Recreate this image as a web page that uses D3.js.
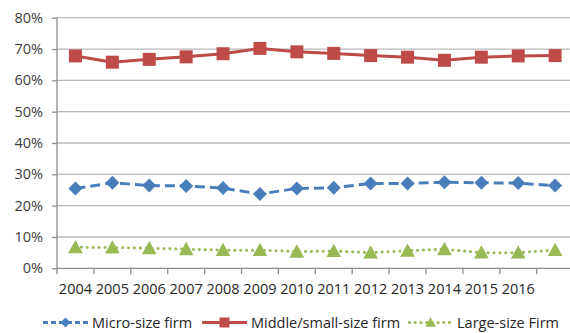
<!DOCTYPE html>
<html><head><meta charset="utf-8">
<script src="https://cdn.jsdelivr.net/npm/d3@7"></script>
<style>body{margin:0;background:#fff;} svg{display:block;font-family:"Open Sans",sans-serif;}</style>
</head><body>
<svg id="c" width="570" height="333"></svg>
<script>
const categories = ["2004","2005","2006","2007","2008","2009","2010","2011","2012","2013","2014","2015","2016","2017"];
const tickLabels = ["2004","2005","2006","2007","2008","2009","2010","2011","2012","2013","2014","2015","2016",""];
const micro  = [0.255,0.273,0.264,0.263,0.256,0.237,0.255,0.257,0.271,0.271,0.275,0.273,0.272,0.264];
const middle = [0.678,0.658,0.667,0.675,0.685,0.702,0.691,0.686,0.679,0.674,0.664,0.674,0.678,0.679];
const large  = [0.067,0.066,0.064,0.061,0.058,0.058,0.053,0.055,0.050,0.056,0.061,0.050,0.050,0.058];
const yTicks = [0,0.1,0.2,0.3,0.4,0.5,0.6,0.7,0.8];
const seriesNames = ["Micro-size firm","Middle/small-size firm","Large-size Firm"];

const svg = d3.select("#c");
const x = d3.scaleBand().domain(categories).range([57, 573.6]).padding(0);
const y = d3.scaleLinear().domain([0,0.8]).range([268.3, 17.7]);
const cx = d => x(d) + x.bandwidth()/2;

// gridlines
svg.append("g").selectAll("line").data(yTicks.filter(t=>t>0)).join("line")
  .attr("x1",57).attr("x2",570).attr("y1",d=>y(d)).attr("y2",d=>y(d))
  .attr("stroke","#b8b8b8").attr("stroke-width",1.3);

// y axis
const yAxis = d3.axisLeft(y).tickValues(yTicks).tickFormat(d3.format(".0%")).tickSize(5).tickPadding(9);
const gy = svg.append("g").attr("transform","translate(57,0)").call(yAxis);
gy.select(".domain").attr("stroke","#8c8c8c").attr("stroke-width",1.3).attr("d","M0,17.7V268.3");
gy.selectAll(".tick line").attr("stroke","#8c8c8c").attr("stroke-width",1.3);
gy.selectAll("text").attr("font-size",14.5).attr("fill","#404040").attr("font-family","Open Sans, sans-serif");

// x axis
const xAxis = d3.axisBottom(x).tickFormat((d,i)=>tickLabels[i]).tickSize(0).tickPadding(15);
const gx = svg.append("g").attr("transform","translate(0,268.3)").call(xAxis);
gx.select(".domain").attr("stroke","#8c8c8c").attr("stroke-width",1.3).attr("d","M57,0H570");
gx.selectAll("text").attr("font-size",14.5).attr("fill","#262626").attr("font-family","Open Sans, sans-serif");
gx.append("g").selectAll("line").data(d3.range(categories.length+1)).join("line")
  .attr("x1",i=>57+i*x.bandwidth()).attr("x2",i=>57+i*x.bandwidth())
  .attr("y1",0).attr("y2",6).attr("stroke","#8c8c8c").attr("stroke-width",1.3);

const colors = ["#4a7ebb","#be4b48","#98b954"];
const dashes = ["10,5","none","0.1,5.8"];
const caps = ["butt","butt","round"];
const data = [micro, middle, large];
const line = d3.line().x((d,i)=>cx(categories[i])).y(d=>y(d));

const markerPath = (k, s) => {
  if (k===0) return `M0,${-s}L${s},0L0,${s}L${-s},0Z`;
  if (k===1) return `M${-s},${-s}H${s}V${s}H${-s}Z`;
  return `M0,${-s*1.05}L${s*1.05},${s*0.85}L${-s*1.05},${s*0.85}Z`;
};
const markerSize = [7,6.5,7];

data.forEach((vals,k)=>{
  svg.append("path").datum(vals).attr("d",line).attr("fill","none")
    .attr("stroke",colors[k]).attr("stroke-width",3).attr("stroke-dasharray",dashes[k])
    .attr("stroke-linecap",caps[k]).attr("stroke-linejoin","round");
  svg.append("g").selectAll("path").data(vals).join("path")
    .attr("transform",(d,i)=>`translate(${cx(categories[i])},${y(d)})`)
    .attr("d",markerPath(k, markerSize[k])).attr("fill",colors[k]);
});

// legend
const legendX = [43, 202, 408];
const legY = 322.5;
seriesNames.forEach((name,k)=>{
  const g = svg.append("g").attr("transform",`translate(${legendX[k]},${legY})`);
  g.append("line").attr("x1",k===2?1.5:0).attr("x2",k===2?44:45).attr("y1",0).attr("y2",0)
    .attr("stroke",colors[k]).attr("stroke-width",3)
    .attr("stroke-dasharray",k===0?"5,3":(k===2?"0.1,5.6":"none"))
    .attr("stroke-linecap",k===2?"round":"butt");
  g.append("path").attr("transform","translate(22.5,0)").attr("d",markerPath(k, 5)).attr("fill",colors[k]);
  g.append("text").attr("x",49).attr("y",0).attr("dy","0.35em").attr("font-size",14.5)
    .attr("fill","#262626").text(name);
});
</script>
</body></html>
